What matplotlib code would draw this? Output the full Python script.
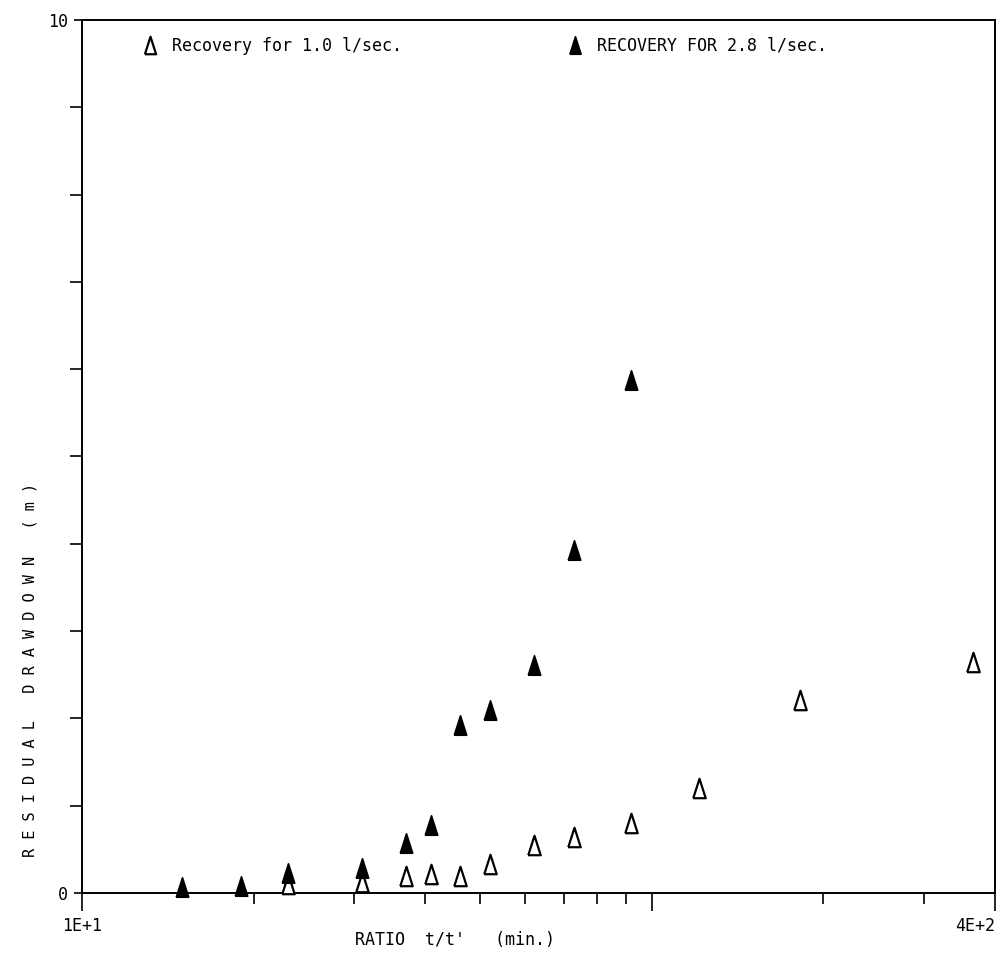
import matplotlib
matplotlib.use("Agg")
import matplotlib.pyplot as plt
from matplotlib.ticker import FixedLocator, NullFormatter, FixedFormatter
import numpy as np

# Data
ratio_low = [23, 31, 37, 41, 46, 52, 62, 73, 92, 121, 182, 366]
drawdown_low = [0.10, 0.13, 0.20, 0.22, 0.20, 0.33, 0.55, 0.64, 0.80, 1.20, 2.21, 2.65]

ratio_high = [15, 19, 23, 31, 37, 41, 46, 52, 62, 73, 92]
drawdown_high = [0.07, 0.08, 0.23, 0.29, 0.57, 0.78, 1.92, 2.10, 2.61, 3.93, 5.88]

label_low = "Recovery for 1.0 l/sec."
label_high = "RECOVERY FOR 2.8 l/sec."
x_label = "RATIO  t/t'   (min.)"
y_label = "RESIDUAL DRAWDOWN (m)"
x_major = [10, 100, 400]
x_tick_labels = ["1E+1", "", "4E+2"]
x_minor = [20, 30, 40, 50, 60, 70, 80, 90, 200, 300]
y_tick_labels = ["0", "10"]

W, H = 1002, 977
fig = plt.figure(figsize=(W / 100, H / 100), dpi=100)
ax = fig.add_axes([82 / W, 1 - 893 / H, (995 - 82) / W, (893 - 20) / H])

mono = "DejaVu Sans Mono"
tri = [(-0.32, -0.5), (0.32, -0.5), (0.0, 0.5), (-0.32, -0.5)]

ax.plot(ratio_low, drawdown_low, linestyle="none", marker=tri, markersize=14,
        markerfacecolor="white", markeredgecolor="black", markeredgewidth=1.6,
        label=label_low, clip_on=False, zorder=3)
ax.plot(ratio_high, drawdown_high, linestyle="none", marker=tri, markersize=14,
        markerfacecolor="black", markeredgecolor="black", markeredgewidth=1.2,
        label=label_high, clip_on=False, zorder=4)

ax.set_xscale("log")
ax.set_xlim(10, 400)
ax.set_ylim(0, 10)

# x ticks
ax.xaxis.set_major_locator(FixedLocator(x_major))
ax.xaxis.set_major_formatter(FixedFormatter(x_tick_labels))
ax.xaxis.set_minor_locator(FixedLocator(x_minor))
ax.xaxis.set_minor_formatter(NullFormatter())
ax.tick_params(axis="x", which="major", direction="out", length=13, width=1.2,
               pad=4, labelsize=12)
ax.tick_params(axis="x", which="minor", direction="out", length=8, width=1.2)
for lab in ax.get_xticklabels():
    lab.set_fontfamily(mono)
labs = ax.get_xticklabels()
labs[0].set_horizontalalignment("center")
labs[-1].set_horizontalalignment("right")

# y ticks
ax.yaxis.set_major_locator(FixedLocator([0, 10]))
ax.yaxis.set_major_formatter(FixedFormatter(y_tick_labels))
ax.yaxis.set_minor_locator(FixedLocator(list(range(1, 10))))
ax.yaxis.set_minor_formatter(NullFormatter())
ax.tick_params(axis="y", which="major", direction="out", length=6, width=1.2,
               pad=4, labelsize=12)
ax.tick_params(axis="y", which="minor", direction="out", length=9, width=1.2)
for lab in ax.get_yticklabels():
    lab.set_fontfamily(mono)

for s in ax.spines.values():
    s.set_linewidth(1.4)
    s.set_color("black")

# axis labels
fig.text(455 / W, 1 - 940 / H, x_label, ha="center", va="center",
         fontsize=12, family=mono)
spaced = " ".join(list(y_label))
fig.text(30 / W, 1 - 670 / H, spaced,
         rotation=90, ha="center", va="center", fontsize=11, family=mono)

leg = ax.legend(loc="upper left", bbox_to_anchor=(0.053, 0.998), ncol=2,
                frameon=False, handlelength=0.6, handletextpad=1.0,
                columnspacing=10.1, prop={"family": mono, "size": 12},
                markerscale=0.9)

fig.savefig("out.png", dpi=100, facecolor="white")
